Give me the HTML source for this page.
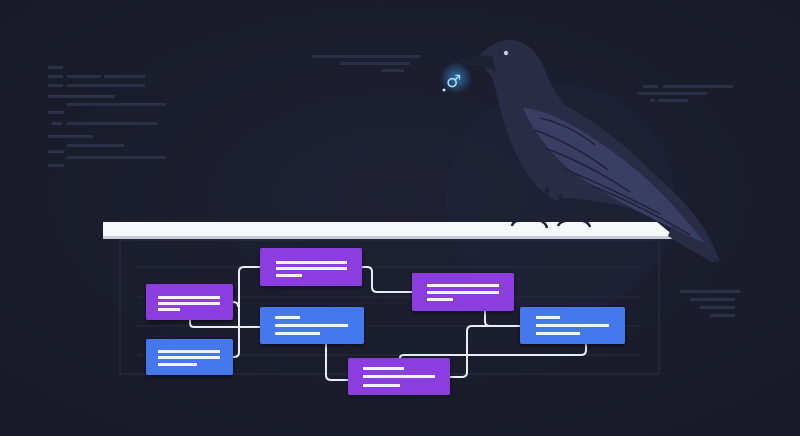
<!DOCTYPE html>
<html><head><meta charset="utf-8"><style>
html,body{margin:0;padding:0;background:#1b1d2d;}
svg{display:block}
</style></head><body>
<svg width="800" height="436" viewBox="0 0 800 436" xmlns="http://www.w3.org/2000/svg">
<defs>
<radialGradient id="bg" cx="0.5" cy="0.45" r="0.7">
<stop offset="0" stop-color="#1e2133"/><stop offset="1" stop-color="#181a28"/>
</radialGradient>
<radialGradient id="glow" cx="0.5" cy="0.5" r="0.5">
<stop offset="0" stop-color="#3fa9ff" stop-opacity="0.6"/><stop offset="1" stop-color="#3fa9ff" stop-opacity="0"/>
</radialGradient>
<filter id="sh"><feDropShadow dx="0" dy="2" stdDeviation="2" flood-color="#000" flood-opacity="0.5"/></filter>
</defs>
<rect width="800" height="436" fill="url(#bg)"/>
<circle cx="560" cy="200" r="115" fill="#20233a" opacity="0.5"/>
<g fill="#2c3046">
<rect x="48" y="66" width="15" height="3"/><rect x="48" y="75" width="15" height="3"/><rect x="67" y="75" width="34" height="3"/><rect x="104" y="75" width="41" height="3"/>
<rect x="48" y="84" width="15" height="3"/><rect x="67" y="84" width="78" height="3"/>
<rect x="48" y="95" width="67" height="3"/><rect x="67" y="103" width="99" height="3"/><rect x="48" y="111" width="16" height="3"/>
<rect x="52" y="122" width="10" height="3"/><rect x="67" y="122" width="90" height="3"/>
<rect x="48" y="135" width="45" height="3"/><rect x="67" y="144" width="57" height="3"/><rect x="48" y="150" width="16" height="3"/>
<rect x="67" y="156" width="99" height="3"/><rect x="48" y="164" width="16" height="3"/>
<rect x="312" y="55" width="108" height="3"/><rect x="340" y="62" width="70" height="3"/><rect x="382" y="69" width="22" height="3"/>
<rect x="643" y="85" width="15" height="3"/><rect x="663" y="85" width="70" height="3"/><rect x="637" y="92" width="70" height="3"/><rect x="650" y="99" width="5" height="3"/><rect x="658" y="99" width="30" height="3"/>
<rect x="680" y="290" width="60" height="3"/><rect x="690" y="298" width="45" height="3"/><rect x="700" y="306" width="35" height="3"/><rect x="710" y="314" width="25" height="3"/>
</g>
<rect x="120" y="240" width="539" height="134" fill="none" stroke="#2c3045" stroke-width="1"/>
<g stroke="#262a3d" stroke-width="1">
<line x1="137" y1="267" x2="642" y2="267"/><line x1="137" y1="297" x2="642" y2="297"/><line x1="137" y1="326" x2="642" y2="326"/><line x1="137" y1="355" x2="642" y2="355"/>
</g>
<g fill="none" stroke="#e9ecf4" stroke-width="2" stroke-linecap="round">
<path d="M260,267 H244 Q239,267 239,272 V352 Q239,357 234,357 H233"/>
<path d="M233,302 Q238,302 238,306"/>
<path d="M190,320 V323 Q190,327 194,327 H260"/>
<path d="M362,267 H367 Q372,267 372,272 V287 Q372,292 377,292 H412"/>
<path d="M326,344 V375 Q326,380 331,380 H348"/>
<path d="M485,311 V321 Q485,326 490,326 H520"/>
<path d="M520,326 H472 Q467,326 467,331 V372 Q467,377 462,377 H450"/>
<path d="M586,344 V350 Q586,355 581,355 H404 Q400,355 400,358"/>
</g>
<g filter="url(#sh)">
<rect x="260" y="248" width="102" height="38" rx="2" fill="#8b3ee0"/>
<rect x="146" y="284" width="87" height="36" rx="2" fill="#8b3ee0"/>
<rect x="146" y="339" width="87" height="36" rx="2" fill="#4478ec"/>
<rect x="260" y="307" width="104" height="37" rx="2" fill="#4478ec"/>
<rect x="412" y="273" width="102" height="38" rx="2" fill="#8b3ee0"/>
<rect x="520" y="307" width="105" height="37" rx="2" fill="#4478ec"/>
<rect x="348" y="358" width="102" height="37" rx="2" fill="#8b3ee0"/>
</g>
<g fill="#f2f2fa">
<rect x="276" y="261" width="71" height="3"/><rect x="276" y="267" width="71" height="3"/><rect x="276" y="274" width="26" height="3"/>
<rect x="158" y="296" width="62" height="3"/><rect x="158" y="302" width="62" height="3"/><rect x="158" y="308" width="22" height="3"/>
<rect x="158" y="350" width="62" height="3"/><rect x="158" y="356" width="62" height="3"/><rect x="158" y="363" width="39" height="3"/>
<rect x="275" y="316" width="25" height="3"/><rect x="275" y="324" width="73" height="3"/><rect x="275" y="332" width="45" height="3"/>
<rect x="427" y="284" width="72" height="3"/><rect x="427" y="291" width="72" height="3"/><rect x="427" y="298" width="26" height="3"/>
<rect x="536" y="316" width="24" height="3"/><rect x="536" y="324" width="73" height="3"/><rect x="536" y="332" width="44" height="3"/>
<rect x="363" y="367" width="41" height="3"/><rect x="363" y="375" width="72" height="3"/><rect x="363" y="384" width="37" height="3"/>
</g>
<!-- raven -->
<g>
<path d="M480,55 Q495,38 515,40 Q535,45 545,70 Q552,90 565,105 Q610,130 650,170 Q690,205 705,230 Q715,248 720,262 Q700,250 680,232 Q650,215 620,205 Q590,200 570,198 L555,200 Q535,190 522,165 Q508,140 502,115 Q497,95 493,80 Q488,70 480,64 Z" fill="#2a2c46"/>
<path d="M523,108 Q548,110 580,130 Q630,160 668,200 Q688,222 705,243 Q670,228 640,212 Q600,192 570,170 Q540,145 523,108 Z" fill="#3a3e63"/>
<g fill="none" stroke="#20223a" stroke-width="1.5">
<path d="M540,118 Q570,125 595,145"/><path d="M535,130 Q575,145 608,170"/><path d="M545,148 Q590,165 630,192"/><path d="M562,168 Q615,190 660,214"/><path d="M590,185 Q640,205 690,235"/>
</g>
<path d="M492,56 Q470,54 455,62 Q450,66 448,71 Q462,64 478,66 Q490,68 496,72 Z" fill="#1e2033"/>
<circle cx="506" cy="53" r="2.2" fill="#c9ccdc"/>
<path d="M548,188 L540,213 L520,217 M560,195 L565,214 L585,218" stroke="#1e2033" stroke-width="3.5" fill="none"/>
</g>
<circle cx="456" cy="78" r="16" fill="url(#glow)"/>
<text x="446" y="87" font-family="DejaVu Sans, sans-serif" font-size="17" fill="#a6e0ff">♂</text>
<circle cx="444" cy="90" r="1.5" fill="#a6e0ff"/>
<path d="M103,222 H657 L673,235 L673,238 H103 Z" fill="#f7f8fb"/>
<rect x="103" y="236" width="570" height="3" fill="#c8cbd8"/>
<path d="M512,226 Q513,219 530,219 Q545,219 547,228 M558,226 Q560,220 575,220 Q588,220 590,227" stroke="#1e2033" stroke-width="2.5" fill="none"/>
<path d="M672,226 Q695,245 718,262 L712,262 Q690,250 668,236 Z" fill="#2a2c46"/>
</svg>
</body></html>
